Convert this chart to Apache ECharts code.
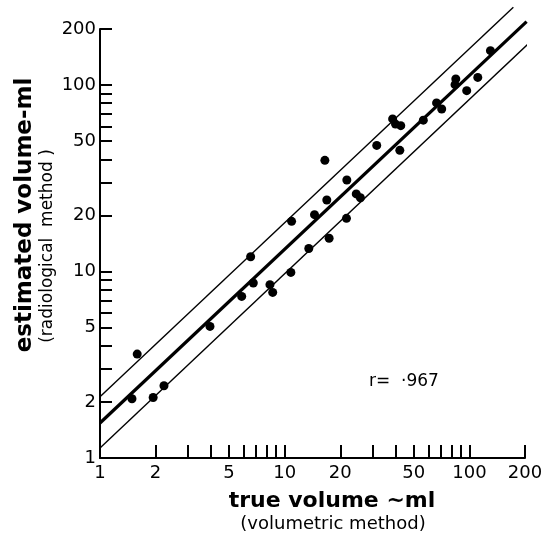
<!DOCTYPE html>
<html><head><meta charset="utf-8">
<script src="https://cdn.jsdelivr.net/npm/echarts@6/dist/echarts.min.js"></script>
<style>html,body{margin:0;padding:0;background:#fff}#c{width:559px;height:534px}</style>
</head><body><div id="c"></div>
<script>
// true volume (volumetric method), ml
const trueVolume = [1.49,1.59,1.94,2.22,3.94,5.85,6.54,6.76,8.32,8.61,10.8,10.9,13.5,14.5,16.5,16.9,17.4,21.7,21.6,24.4,25.7,31.5,38.4,39.8,42.5,42.0,56.3,66.4,70.8,84.4,83.6,96.7,111,130];
// estimated volume (radiological method), ml
const estimatedVolume = [2.08,3.61,2.11,2.44,5.08,7.36,12.0,8.68,8.51,7.73,9.9,18.6,13.3,20.2,39.5,24.2,15.1,31.0,19.3,26.1,24.9,47.5,65.9,61.8,60.6,44.7,64.9,80.3,74.5,108,100.6,93.4,110,153];
// regression line and limits (end points)
const fitLine = [[1,1.54],[204,219]];
const upperLimit = [[1,2.13],[173,262]];
const lowerLimit = [[1,1.13],[241,191]];
// axis ticks and labels
const xTickValues = [1,2,3,4,5,6,7,8,9,10,20,30,40,50,60,70,80,90,100,200];
const yTickValues = [1,2,3,4,5,6,7,8,9,10,20,30,40,50,60,70,80,90,100,200];
const xLabelValues = [1,2,5,10,20,50,100,200];
const yLabelValues = [1,2,5,10,20,50,100,200];

const font = 'DejaVu Sans';
const points = trueVolume.map((x,i)=>[x, estimatedVolume[i]]);
const chart = echarts.init(document.getElementById('c'), null, {renderer:'canvas'});
const axisCommon = {
  type:'log', logBase:10, min:1, max:200,
  axisLine:{show:true, lineStyle:{color:'#000', width:2}},
  splitLine:{show:false}, minorTick:{show:false}, minorSplitLine:{show:false}
};
chart.setOption({
  animation:false,
  backgroundColor:'#fff',
  grid:{left:100, top:29, width:425, height:429, containLabel:false},
  xAxis: Object.assign({}, axisCommon, {
    axisTick:{show:true, inside:true, length:13, customValues:xTickValues, lineStyle:{color:'#000', width:2}},
    axisLabel:{customValues:xLabelValues, color:'#000', fontSize:18, fontFamily:font, margin:6, hideOverlap:false}
  }),
  yAxis: Object.assign({}, axisCommon, {
    axisTick:{show:true, inside:true, length:12, customValues:yTickValues, lineStyle:{color:'#000', width:2}},
    axisLabel:{customValues:yLabelValues, color:'#000', fontSize:18, fontFamily:font, margin:4, hideOverlap:false}
  }),
  series:[
    {type:'line', data:fitLine, showSymbol:false, clip:false, silent:true, lineStyle:{color:'#000', width:3.2}},
    {type:'line', data:upperLimit, showSymbol:false, clip:false, silent:true, lineStyle:{color:'#000', width:1.4}},
    {type:'line', data:lowerLimit, showSymbol:false, clip:false, silent:true, lineStyle:{color:'#000', width:1.4}},
    {type:'scatter', data:points, symbol:'circle', symbolSize:9, itemStyle:{color:'#000', opacity:1}, silent:true}
  ],
  graphic:[
    {type:'text', x:25, y:215, rotation:Math.PI/2, style:{text:'estimated volume-ml', font:'bold 23px "DejaVu Sans"', fill:'#000', align:'center', verticalAlign:'middle'}},
    {type:'text', x:48, y:246, rotation:Math.PI/2, style:{text:'(radiological  method )', font:'17px "DejaVu Sans"', fill:'#000', align:'center', verticalAlign:'middle'}},
    {type:'text', x:332, y:501, style:{text:'true volume ~ml', font:'bold 22px "DejaVu Sans"', fill:'#000', align:'center', verticalAlign:'middle'}},
    {type:'text', x:333, y:524, style:{text:'(volumetric method)', font:'18px "DejaVu Sans"', fill:'#000', align:'center', verticalAlign:'middle'}},
    {type:'text', x:369, y:382, style:{text:'r=  \u00b7967', font:'17px "DejaVu Sans"', fill:'#000', align:'left', verticalAlign:'middle'}}
  ]
});
</script>
</body></html>
